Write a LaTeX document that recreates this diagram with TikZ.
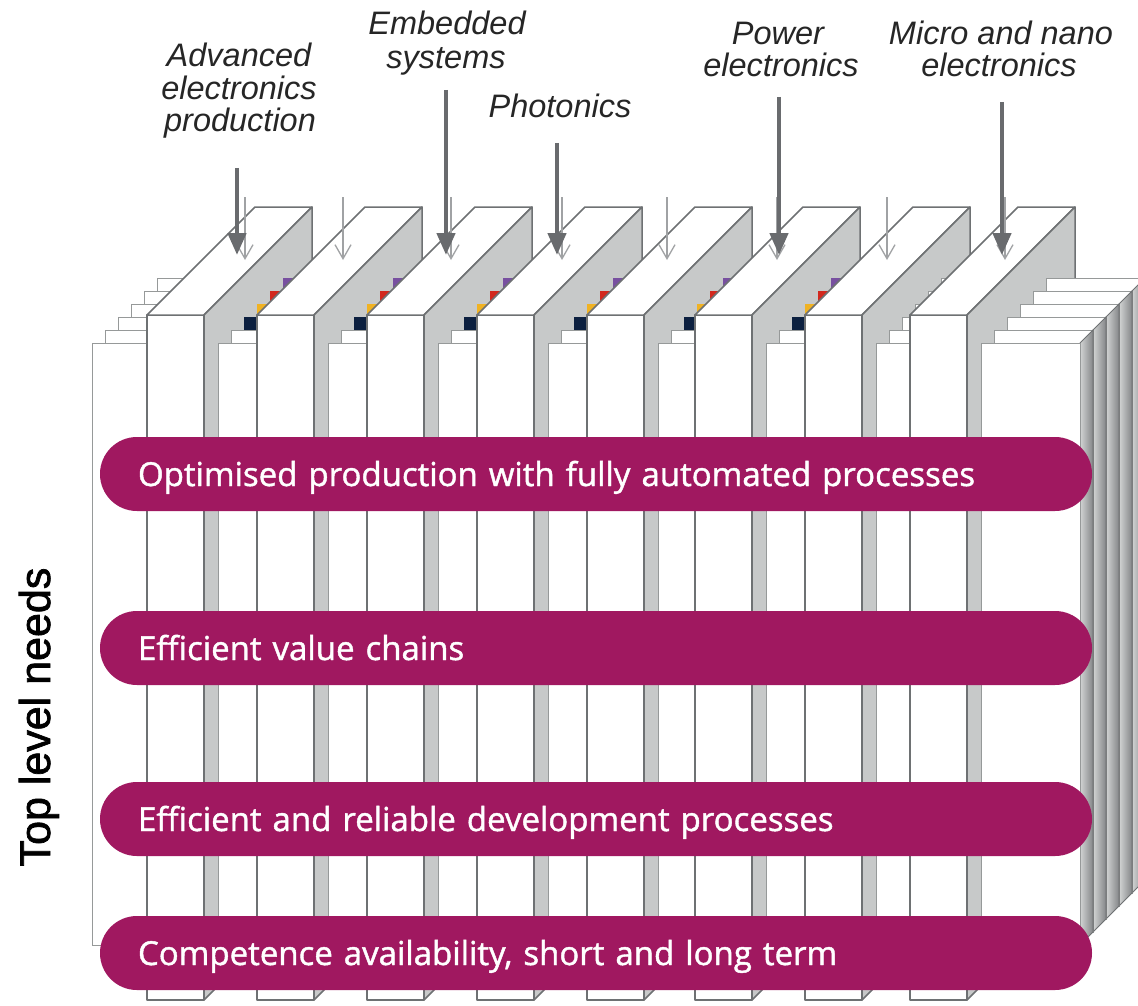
\documentclass[tikz,border=0pt]{standalone}
\usepackage{fontspec}
\setmainfont{Liberation Sans}
\newfontfamily\barfont[FakeBold=1.3]{Open Sans}
\newfontfamily\labfont{Liberation Sans}
\newfontfamily\sidefont[FakeBold=1.6]{Liberation Sans}
\usetikzlibrary{arrows.meta}

\definecolor{barc}{RGB}{160,24,96}
\definecolor{slabline}{RGB}{110,113,115}
\definecolor{sidegray}{RGB}{199,201,201}
\definecolor{pageline}{RGB}{150,153,153}
\definecolor{navyc}{RGB}{12,32,64}
\definecolor{yellowc}{RGB}{240,178,35}
\definecolor{redc}{RGB}{210,40,30}
\definecolor{purplec}{RGB}{120,80,160}
\definecolor{arrowdark}{RGB}{105,107,110}
\definecolor{arrowlight}{RGB}{160,162,164}

\tikzset{
  slabedge/.style={draw=slabline, line width=1.5pt, line join=round},
  pagesheet/.style={draw=pageline, line width=1pt, fill=white},
  pageside/.style={draw=slabline, line width=0.9pt, left color=sidegray!80, right color=slabline!85},
  needbar/.style={fill=barc, text=white, rounded corners=36.9pt, minimum width=992pt,
     minimum height=74pt, text width=916pt, inner xsep=38pt, inner ysep=0pt, align=left,
     text height=28pt, text depth=4pt, font=\barfont\fontsize{33}{33}\selectfont},
  techlabel/.style={anchor=base, inner sep=0pt, font=\labfont\itshape\fontsize{32.5}{33}\selectfont, text=black!85},
  thickarrow/.style={draw=arrowdark, line width=4.5pt, -{Triangle[width=18pt,length=22pt]}},
  thinarrow/.style={draw=arrowlight, line width=1.3pt, -{Straight Barb[width=16pt,length=14pt]}}
}

\newcommand\slabat[1]{%
  \filldraw[slabedge, fill=white] (#1,315) rectangle (#1+57,1000);
  \filldraw[slabedge, fill=white] (#1,315) -- (#1+57,315) -- (#1+165,207) -- (#1+108,207) -- cycle;
  \filldraw[slabedge, fill=sidegray] (#1+57,315) -- (#1+165,207) -- (#1+165,892) -- (#1+57,1000) -- cycle;
}

\begin{document}
\begin{tikzpicture}[x=1pt, y=-1pt]
\useasboundingbox (0,0) rectangle (1138,1006);
\clip (0,0) rectangle (1138,1006);

% left stack of sheets
\foreach \d in {79,66,53,40,27,14}{
  \filldraw[pagesheet] (78+\d,357-\d) rectangle (147+\d,959-\d);
}

% slabs with the sheets in the gaps between them
\foreach \xa/\xb/\cl in {147/257/1, 257/367/1, 367/477/1, 477/587/1, 587/695/1, 695/805/1, 805/910/0}{
  \slabat{\xa}
  \foreach \d/\c in {79/purplec, 66/redc, 53/yellowc, 40/navyc, 27/white, 14/white}{
    \ifnum\cl=1
      \ifnum\d>30
        \filldraw[fill=\c, draw=\c, line width=0.5pt] (\xa+57+\d,357-\d) rectangle (\xb+\d,959-\d);
      \else
        \filldraw[pagesheet] (\xa+57+\d,357-\d) rectangle (\xb+\d,959-\d);
      \fi
    \else
      \filldraw[pagesheet] (\xa+57+\d,357-\d) rectangle (\xb+\d,959-\d);
    \fi
  }
}
\slabat{910}

% right stack of sheets
\foreach \d in {79,66,53,40,27,14}{
  \filldraw[pageside] (1066+\d,357-\d) -- (1079+\d,344-\d) -- (1079+\d,946-\d) -- (1066+\d,959-\d) -- cycle;
  \filldraw[pagesheet] (967+\d,357-\d) rectangle (1066+\d,959-\d);
}

% top level needs
\node[needbar] (need1) at (596,474) {Optimised production with fully automated processes};
\node[needbar] (need2) at (596,648) {Efficient value chains};
\node[needbar] (need3) at (596,819) {Efficient and reliable development processes};
\node[needbar] (need4) at (596,953) {Competence availability, short and long term};

\node[rotate=90, anchor=base, inner sep=0pt, font=\sidefont\fontsize{43}{43}\selectfont] (tln) at (50,717) {Top level needs};

% technology labels
\node[techlabel] (aep1) at (239,67) {Advanced};
\node[techlabel] (aep2) at (239,100) {electronics};
\node[techlabel] (aep3) at (240,132) {production};
\node[techlabel] (emb1) at (447,35) {Embedded};
\node[techlabel] (emb2) at (446,69) {systems};
\node[techlabel] (pho) at (560,118) {Photonics};
\node[techlabel] (pow1) at (778,45) {Power};
\node[techlabel] (pow2) at (781,77) {electronics};
\node[techlabel] (mic1) at (1001,45) {Micro and nano};
\node[techlabel] (mic2) at (999,77) {electronics};

% thin arrows (one per slab)
\foreach \n/\x in {1/245, 2/343, 3/451, 4/562, 5/667, 6/777, 7/887, 8/1005}{
  \coordinate (ts\n) at (\x,197);
  \coordinate (te\n) at (\x,260);
  \draw[thinarrow] (ts\n) -- (te\n);
}

% thick arrows from the labels
\coordinate (k1s) at (237,168); \coordinate (k1e) at (237,255);
\coordinate (k2s) at (446,90);  \coordinate (k2e) at (446,255);
\coordinate (k3s) at (557,143); \coordinate (k3e) at (557,255);
\coordinate (k4s) at (779,97);  \coordinate (k4e) at (779,255);
\coordinate (k5s) at (1002,102); \coordinate (k5e) at (1002,255);
\foreach \n in {1,...,5}{
  \draw[thickarrow] (k\n s) -- (k\n e);
}
\end{tikzpicture}
\end{document}
